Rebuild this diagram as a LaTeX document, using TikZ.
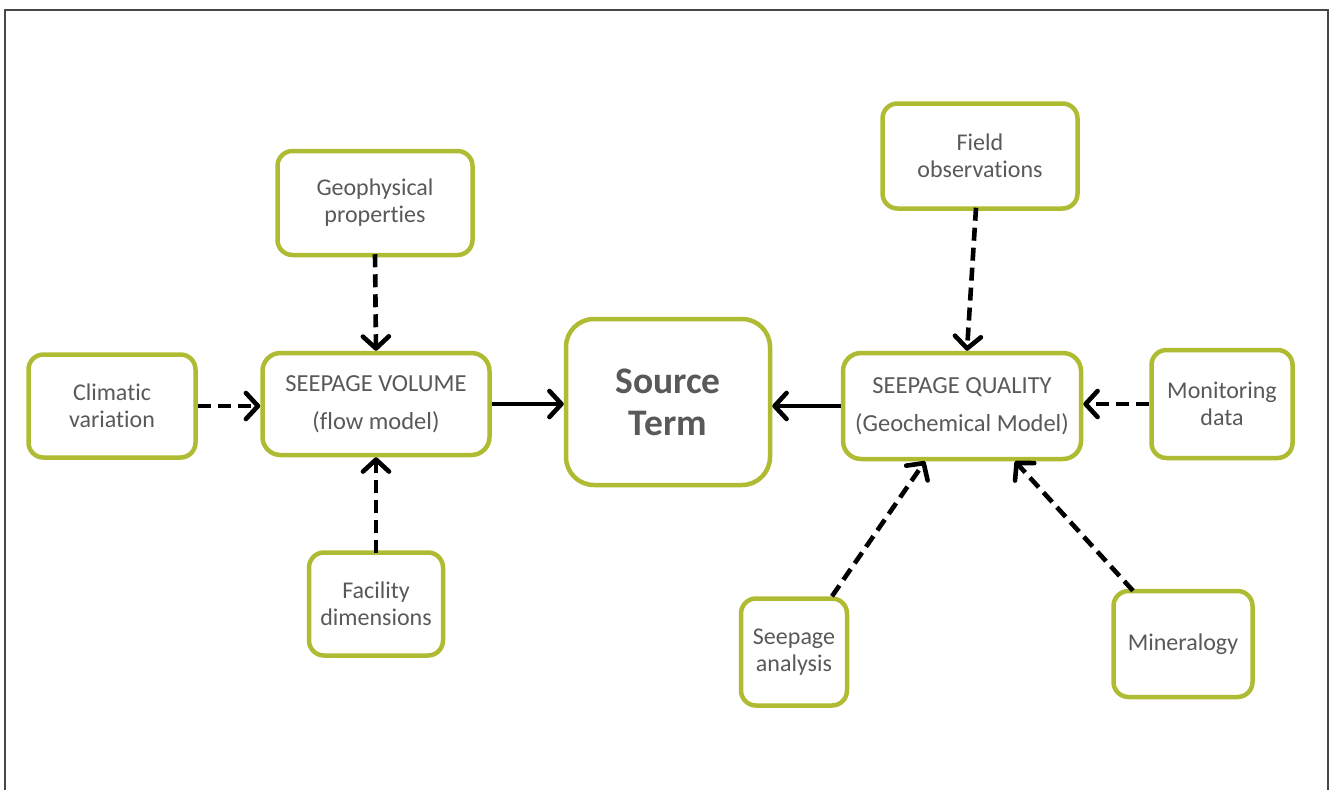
\documentclass[tikz,border=0pt]{standalone}
\usepackage{fontspec}
\setmainfont{Carlito}[Ligatures=NoCommon]
\usetikzlibrary{arrows.meta}
\definecolor{olivebox}{HTML}{B0BB34}
\definecolor{txtgray}{HTML}{595959}
\begin{document}
\begin{tikzpicture}[x=1pt,y=-1pt,
 box/.style={draw=olivebox, line width=4.5pt, rounded corners=15pt, fill=white, text=txtgray, align=center, inner sep=0pt, font=\fontsize{24}{27}\selectfont},
 bigbox/.style={box, rounded corners=18pt, font=\fontsize{24.5}{38}\selectfont},
 srcbox/.style={box, rounded corners=28pt, font=\fontsize{37.5}{42}\selectfont\bfseries},
 dsh/.style={line width=4.6pt, dash pattern=on 13pt off 7pt, -{Straight Barb[length=12pt,width=26pt,round]}},
 sld/.style={line width=4.6pt, -{Straight Barb[length=12pt,width=26pt,round]}}]
\useasboundingbox (0,0) rectangle (1330,790);
\draw[line width=2pt, draw=black!72] (5,790) -- (5,9.5) -- (1328,9.5) -- (1328,790);

\node[box, minimum width=167pt, minimum height=103pt] (clim) at (112,406) {Climatic\\variation};
\node[bigbox, minimum width=227pt, minimum height=102pt] (sv) at (376,404) {SEEPAGE VOLUME\\(flow model)};
\node[box, minimum width=195pt, minimum height=104pt] (geo) at (375,203) {Geophysical\\properties};
\node[box, minimum width=134pt, minimum height=103pt] (fac) at (376,604) {Facility\\dimensions};
\node[srcbox, minimum width=204pt, minimum height=166pt] (src) at (668,402) {Source\\Term};
\node[bigbox, minimum width=238pt, minimum height=106pt] (sq) at (962,406) {SEEPAGE QUALITY\\(Geochemical Model)};
\node[box, minimum width=141pt, minimum height=108pt] (mon) at (1222,404) {Monitoring\\data};
\node[box, minimum width=195pt, minimum height=105pt] (fld) at (980,156) {Field\\observations};
\node[box, minimum width=106pt, minimum height=107pt] (sa) at (794,652) {Seepage\\analysis};
\node[box, minimum width=139pt, minimum height=106pt] (min) at (1183,644) {Mineralogy};

\draw[dsh] (clim.east) -- (clim.east -| sv.west);
\draw[dsh] ([yshift=3pt]geo.south) -- (sv.north);
\draw[dsh] ([yshift=-3pt]fac.north) -- (sv.south);
\draw[sld] (sv.east) -- (sv.east -| src.west);
\draw[sld] (sq.west) -- (sq.west -| src.east);
\draw[dsh] (mon.west) -- (mon.west -| sq.east);
\draw[dsh] ([xshift=-4pt,yshift=3pt]fld.south) -- ([xshift=5pt]sq.north);
\draw[dsh] ([xshift=38pt]sa.north) -- ([xshift=-37pt]sq.south);
\draw[dsh] ([xshift=-50pt,yshift=-2pt]min.north) -- ([xshift=53pt]sq.south);
\end{tikzpicture}
\end{document}
